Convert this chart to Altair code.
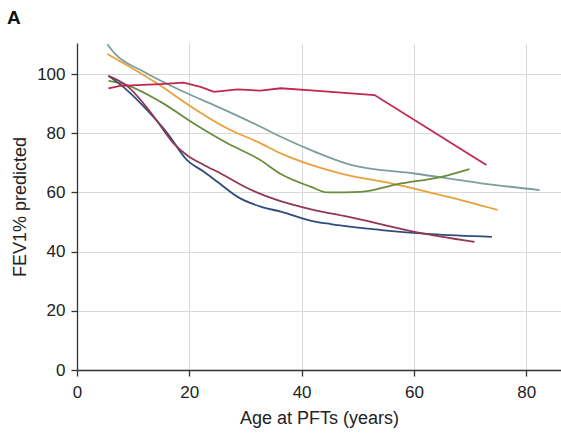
import altair as alt
import pandas as pd

series_names = ["teal", "orange", "green", "crimson", "blue", "maroon"]
series_colors = ["#7d9e9c", "#e9a23b", "#6b8c3e", "#c0264f", "#2e4d7d", "#923751"]

teal_x = [5.4, 6.8, 11.9, 19.6, 25, 32.7, 36.3, 42.3, 48.8, 60.1, 72, 82.4]
teal_y = [110.1, 106.8, 100.8, 93.5, 89, 82.2, 78.8, 73.8, 69.3, 66.4, 63.1, 60.8]

orange_x = [5.4, 14.3, 20.8, 26.8, 32.7, 36.3, 41.7, 47, 55.9, 66.1, 74.9]
orange_y = [106.8, 96.8, 88.4, 81.6, 76.6, 73.2, 69.3, 66.4, 63.1, 58.5, 54.1]

green_x = [5.6, 8.9, 14.9, 20.8, 26.8, 32.7, 36.3, 41.7, 44.6, 50.6, 57.1, 64.9, 69.9]
green_y = [97.7, 96.3, 90.6, 83.3, 76.6, 70.9, 66.2, 61.9, 60, 60.2, 62.8, 65.3, 67.9]

crimson_x = [5.6, 7.7, 14.9, 19, 22, 24.4, 28.6, 32.7, 36.3, 41.7, 53, 72.9]
crimson_y = [95.2, 96, 96.6, 97.1, 95.7, 94, 94.8, 94.4, 95.2, 94.5, 92.9, 69.3]

blue_x = [5.6, 8.9, 12.5, 16.1, 19.6, 22.6, 25, 28.6, 32.7, 36.3, 41.7, 45.2, 54.2, 63.1, 73.9]
blue_y = [99.4, 94.6, 87.8, 80, 70.9, 67, 63.6, 58.5, 55.2, 53.5, 50.4, 49.3, 47.3, 45.9, 45]

maroon_x = [5.6, 8.9, 13.7, 17.2, 19.6, 22.6, 25.6, 30.4, 35.7, 41.7, 48.2, 60.1, 70.8]
maroon_y = [99.4, 96, 85.6, 76.6, 72.6, 69.3, 66.4, 61.4, 57.4, 54.3, 51.8, 46.7, 43.3]

panel_label = ["A"]

xs = [teal_x, orange_x, green_x, crimson_x, blue_x, maroon_x]
ys = [teal_y, orange_y, green_y, crimson_y, blue_y, maroon_y]

rows = []
for name, sx, sy in zip(series_names, xs, ys):
    for i, (a, b) in enumerate(zip(sx, sy)):
        rows.append({"series": name, "age": a, "fev": b, "idx": i})
df = pd.DataFrame(rows)

FONT = "Liberation Sans"

xenc = alt.X("age:Q", scale=alt.Scale(domain=[0, 86.2], nice=False, zero=False),
             axis=alt.Axis(title="Age at PFTs (years)", values=[0, 20, 40, 60, 80],
                           labelPadding=8, titlePadding=9, labelFlush=False))
yenc = alt.Y("fev:Q", scale=alt.Scale(domain=[0, 110.5], nice=False),
             axis=alt.Axis(title="FEV1% predicted", values=[0, 20, 40, 60, 80, 100],
                           labelPadding=6, titlePadding=7, labelFlush=False))
cenc = alt.Color("series:N", scale=alt.Scale(domain=series_names, range=series_colors), legend=None)

base = alt.Chart(df).encode(x=xenc, y=yenc, color=cenc, order="idx:Q")

smooth = base.mark_line(strokeWidth=1.8, clip=True, interpolate="monotone").transform_filter(
    alt.datum.series != "crimson"
)
straight = base.mark_line(strokeWidth=1.8, clip=True, interpolate="linear").transform_filter(
    alt.datum.series == "crimson"
)

label = alt.Chart(pd.DataFrame({"t": panel_label})).mark_text(
    align="left", baseline="alphabetic", fontSize=19, fontWeight="bold", font=FONT, color="#111"
).encode(
    x=alt.value(-70), y=alt.value(-19), text="t:N"
)

chart = alt.layer(smooth, straight, label).properties(
    width=484,
    height=327,
    padding={"left": 77, "top": 43, "right": 0, "bottom": 64},
    autosize=alt.AutoSizeParams(type="none"),
).configure_view(
    stroke=None
).configure_axis(
    labelFont=FONT, titleFont=FONT, labelFontSize=17, titleFontSize=18,
    labelColor="#222", titleColor="#222", titleFontWeight="normal",
    gridColor="#d8d8d8", gridWidth=1, domainColor="#333", domainWidth=1.3,
    tickColor="#333", tickSize=6, tickWidth=1.3,
)

chart.save("out.html", embed_options={"renderer": "svg", "actions": False})
